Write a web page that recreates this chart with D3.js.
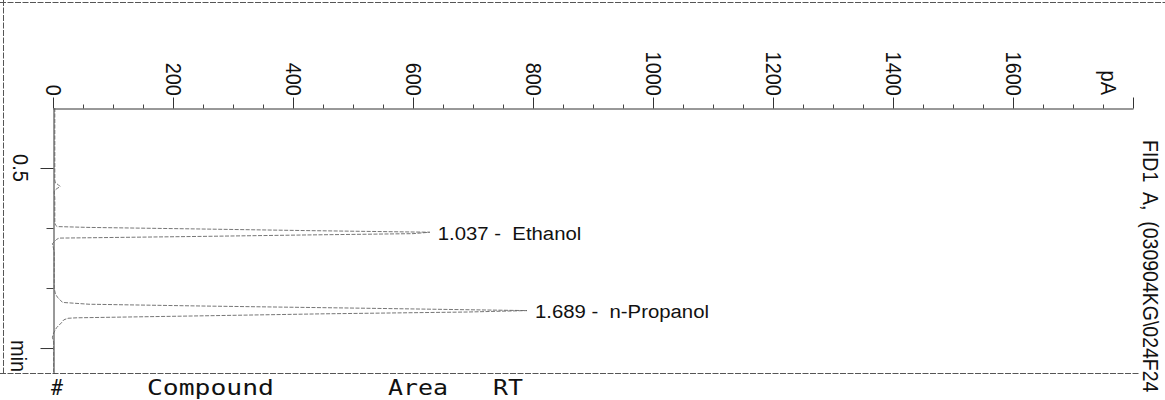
<!DOCTYPE html>
<html>
<head>
<meta charset="utf-8">
<script src="https://cdn.jsdelivr.net/npm/d3@7"></script>
<style>
  body { margin: 0; background: #fff; }
  svg { display: block; font-family: Arial, "Liberation Sans", sans-serif; }
</style>
</head>
<body>
<svg id="chart" width="1165" height="400"></svg>
<script>
// signal axis (pA) ticks
const signalTicks = [0, 200, 400, 600, 800, 1000, 1200, 1400, 1600];
const signalMinorTicks = [50, 100, 150, 250, 300, 350, 450, 500, 550, 650, 700, 750, 850, 900, 950,
    1050, 1100, 1150, 1250, 1300, 1350, 1450, 1500, 1550, 1650, 1700, 1750];
// time axis (min) ticks
const timeMajorTicks = [0.5, 2.0];
const timeMinorTicks = [1.0, 1.5];

// FID trace: retention time (min) and signal (pA)
const traceTime = [0.00, 0.05, 0.10, 0.20, 0.30, 0.40, 0.50, 0.60, 0.625, 0.64, 0.655, 0.67, 0.685, 0.70,
    0.75, 0.85, 0.95, 0.975, 0.988, 0.995, 1.008, 1.022, 1.035, 1.047, 1.058, 1.070, 1.080, 1.084,
    1.095, 1.11, 1.13, 1.15, 1.20, 1.30, 1.40, 1.50, 1.55, 1.58, 1.60, 1.62, 1.635, 1.65, 1.668,
    1.688, 1.700, 1.715, 1.732, 1.748, 1.752, 1.765, 1.79, 1.83, 1.875, 1.91, 1.95, 2.00, 2.10, 2.20];
const traceSignal = [3, 3, 3, 3, 3, 3, 3, 3, 4, 9, 12, 7, 3, 2,
    3, 3, 3, 4, 7, 60, 245, 430, 628, 600, 420, 245, 80, 10,
    6, 3, -1, 0, 2, 2, 2, 2, 4, 8, 12, 16, 60, 250, 515,
    790, 690, 450, 245, 40, 25, 18, 14, 6, 1, -1, 1, 1, 1, 1];

// peak annotations
const peakRT = [1.037, 1.689];
const peakName = ['Ethanol', 'n-Propanol'];
const peakHeight = [628, 790];

// report table header
const tableHeader = ['#', 'Compound', 'Area', 'RT'];

const svg = d3.select('#chart');

const x = d3.scaleLinear().domain([0, 1800]).range([53, 1133]);
const y = d3.scaleLinear().domain([0, 2.208]).range([108, 373]);

// frame of the printout
const frame = svg.append('g')
    .attr('stroke', '#555')
    .attr('stroke-width', 1)
    .attr('stroke-dasharray', '6,1.5');
frame.append('line').attr('x1', 0).attr('x2', 1165).attr('y1', 2.5).attr('y2', 2.5);
frame.append('line').attr('x1', 3.5).attr('x2', 3.5).attr('y1', 0).attr('y2', 373);
frame.append('line').attr('x1', 0).attr('x2', 1140).attr('y1', 373.5).attr('y2', 373.5);

// top signal axis
const topAxis = svg.append('g')
    .attr('transform', 'translate(0,108.5)')
    .call(d3.axisTop(x).tickValues(signalTicks.concat([1800])).tickSize(11).tickSizeOuter(0).tickFormat(''));
topAxis.select('.domain').attr('stroke', '#333');
topAxis.selectAll('.tick line').attr('stroke', '#333');

svg.append('g')
    .attr('transform', 'translate(0,108.5)')
    .call(d3.axisTop(x).tickValues(signalMinorTicks).tickSize(4).tickSizeOuter(0).tickFormat(''))
    .call(g => g.select('.domain').remove())
    .selectAll('.tick line').attr('stroke', '#444');

svg.append('g').selectAll('text')
    .data(signalTicks)
    .join('text')
    .attr('transform', d => 'translate(' + (x(d) + 0.5) + ',96) scale(1.1,1) rotate(90)')
    .attr('text-anchor', 'end')
    .attr('dy', '0.35em')
    .attr('font-size', 20)
    .attr('fill', '#111')
    .text(d => d);

svg.append('text')
    .attr('transform', 'translate(' + x(1760) + ',95) scale(1.1,1) rotate(90)')
    .attr('text-anchor', 'end')
    .attr('dy', '0.35em')
    .attr('font-size', 20)
    .attr('fill', '#111')
    .text('pA');

// left time axis
const leftAxis = svg.append('g')
    .attr('transform', 'translate(53.5,0)')
    .call(d3.axisLeft(y).tickValues(timeMajorTicks).tickSize(13).tickSizeOuter(0).tickFormat(''));
leftAxis.select('.domain').attr('stroke', '#333');
leftAxis.selectAll('.tick line').attr('stroke', '#333');

svg.append('g')
    .attr('transform', 'translate(53.5,0)')
    .call(d3.axisLeft(y).tickValues(timeMinorTicks).tickSize(7).tickSizeOuter(0).tickFormat(''))
    .call(g => g.select('.domain').remove())
    .selectAll('.tick line').attr('stroke', '#444');

svg.append('text')
    .attr('transform', 'translate(21,' + y(0.5) + ') scale(1.1,1) rotate(90)')
    .attr('text-anchor', 'middle')
    .attr('dy', '0.35em')
    .attr('font-size', 20)
    .attr('fill', '#111')
    .text('0.5');

svg.append('text')
    .attr('transform', 'translate(19,340) scale(1.1,1) rotate(90)')
    .attr('text-anchor', 'start')
    .attr('dy', '0.35em')
    .attr('font-size', 20)
    .attr('fill', '#111')
    .text('min');

// signal title on the right
svg.append('text')
    .attr('transform', 'translate(1151,140) scale(1.1,1) rotate(90)')
    .attr('text-anchor', 'start')
    .attr('dy', '0.35em')
    .attr('font-size', 19.5)
    .attr('fill', '#111')
    .attr('xml:space', 'preserve')
    .style('white-space', 'pre')
    .text('FID1  A,  (030904KG\\024F24');

// trace
const trace = traceTime.map((t, i) => ({ t: t, s: traceSignal[i] }));
svg.append('path')
    .datum(trace)
    .attr('fill', 'none')
    .attr('stroke', '#666')
    .attr('stroke-width', 0.9)
    .attr('stroke-dasharray', '4,1.5')
    .attr('d', d3.line().x(d => x(d.s)).y(d => y(d.t)));

// peak labels
svg.append('g').selectAll('text')
    .data(peakRT)
    .join('text')
    .attr('transform', (d, i) => 'translate(' + (x(peakHeight[i]) + 8) + ',' + (y(d) + 1) + ') scale(1.13,1)')
    .attr('dy', '0.35em')
    .attr('font-size', 18)
    .attr('fill', '#111')
    .attr('xml:space', 'preserve')
    .style('white-space', 'pre')
    .text((d, i) => d.toFixed(3) + ' -  ' + peakName[i]);

// table header under the chart
const headerX = [51, 147, 388, 493];
const headerW = [12, 127, 60, 30];
svg.append('g').selectAll('text')
    .data(tableHeader)
    .join('text')
    .attr('x', (d, i) => headerX[i])
    .attr('y', 395)
    .attr('font-family', '"DejaVu Sans Mono", monospace')
    .attr('font-size', 21)
    .attr('fill', '#111')
    .attr('textLength', (d, i) => headerW[i])
    .attr('lengthAdjust', 'spacingAndGlyphs')
    .text(d => d);
</script>
</body>
</html>
